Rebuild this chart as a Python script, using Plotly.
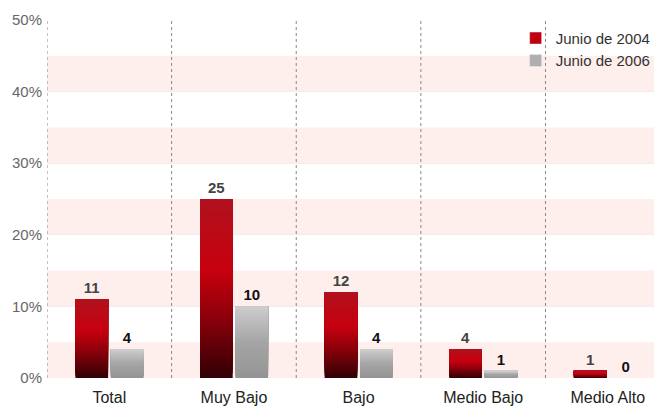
import plotly.graph_objects as go

categories = ["Total", "Muy Bajo", "Bajo", "Medio Bajo", "Medio Alto"]
junio_2004 = [11, 25, 12, 4, 1]
junio_2006 = [4, 10, 4, 1, 0]

FONT = "Liberation Sans"
N_SLICES = 40


def lerp(c1, c2, t):
    return tuple(round(a + (b - a) * t) for a, b in zip(c1, c2))


def gradient(stops, t):
    # stops: list of (pos, rgb) from bottom (0) to top (1)
    for (p1, c1), (p2, c2) in zip(stops, stops[1:]):
        if p1 <= t <= p2:
            return "rgb(%d,%d,%d)" % lerp(c1, c2, (t - p1) / (p2 - p1))
    return "rgb(%d,%d,%d)" % stops[-1][1]


red_stops = [(0.0, (48, 0, 5)), (0.3, (130, 0, 10)), (0.6, (200, 0, 14)), (1.0, (176, 18, 30))]
gray_stops = [(0.0, (148, 148, 148)), (0.5, (165, 165, 165)), (1.0, (205, 205, 205))]

series = [
    ("Junio de 2004", junio_2004, red_stops, -0.272, "#444444", "rgb(190,0,15)"),
    ("Junio de 2006", junio_2006, gray_stops, 0.012, "#111111", "rgb(175,175,175)"),
]

fig = go.Figure()
bar_w = 0.262

for name, vals, stops, off, txtcol, legcol in series:
    # gradient bar: each slice runs from its base to the top, later ones drawn over
    for k in range(N_SLICES):
        fig.add_trace(go.Bar(
            x=categories,
            y=[v * (1 - k / N_SLICES) for v in vals],
            base=[v * k / N_SLICES for v in vals],
            offset=off, width=bar_w,
            marker=dict(color=gradient(stops, (k + 0.5) / N_SLICES), line=dict(width=0)),
            showlegend=False, hoverinfo="skip",
        ))
    # value labels
    fig.add_trace(go.Bar(
        x=categories, y=vals, offset=off, width=bar_w,
        marker=dict(color="rgba(0,0,0,0)", line=dict(width=0)),
        text=[str(v) for v in vals], textposition="outside", cliponaxis=False,
        textfont=dict(family=FONT, size=15, color=txtcol, weight="bold"),
        showlegend=False,
    ))
    # legend entry
    fig.add_trace(go.Bar(x=[None], y=[None], name=name, marker_color=legcol))

# alternating pink bands
for lo in range(0, 50, 10):
    fig.add_shape(type="rect", xref="paper", yref="y", x0=0, x1=1, y0=lo, y1=lo + 5,
                  fillcolor="rgba(253,232,230,0.7)", line=dict(width=0), layer="below")

# dotted category separators
for i in range(len(categories)):
    fig.add_shape(type="line", xref="x", yref="paper", x0=i - 0.5, x1=i - 0.5, y0=0, y1=1,
                  line=dict(color="#888888", width=1, dash="dot"))

# page body has an 8px margin, so margins are shifted to land the plot where the original sits
fig.update_layout(
    width=662, height=406,
    barmode="overlay",
    paper_bgcolor="white", plot_bgcolor="white",
    margin=dict(l=39, r=8, t=12, b=36),
    font=dict(family=FONT, size=14, color="#444444"),
    legend=dict(x=0.762, y=0.995, xanchor="left", yanchor="top",
                bgcolor="rgba(0,0,0,0)", font=dict(size=15, color="#333333"),
                itemwidth=30, tracegroupgap=0),
)
fig.update_xaxes(range=[-0.5, 4.435], showgrid=False, showline=False, ticks="",
                 automargin=False, ticklabelstandoff=8,
                 tickfont=dict(size=16, color="#222222"))
fig.update_yaxes(range=[0, 50], dtick=10, ticksuffix="%", showgrid=True,
                 gridcolor="#eeeeee", zeroline=False, showline=False, automargin=False,
                 ticklabelstandoff=4, tickfont=dict(size=15, color="#666666"))

fig.write_html("out.html")
